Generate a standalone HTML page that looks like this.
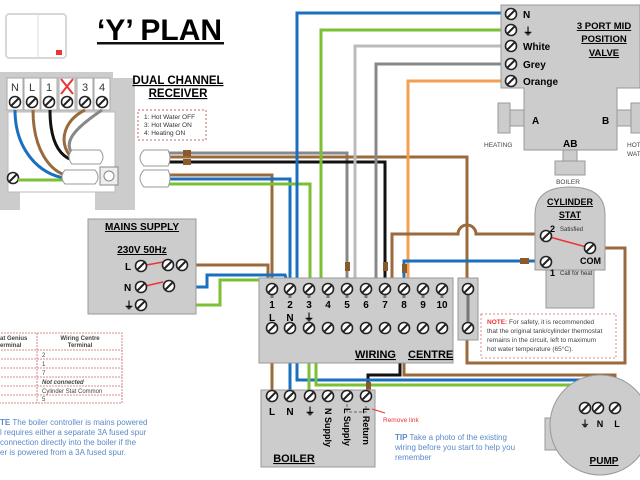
<!DOCTYPE html>
<html><head><meta charset="utf-8"><style>
html,body{margin:0;padding:0;background:#fff;}
svg{display:block;font-family:"Liberation Sans",sans-serif;}
.b{font-weight:bold;}
</style></head><body>
<svg width="640" height="480" viewBox="0 0 640 480" xmlns="http://www.w3.org/2000/svg">
<defs>
<g id="sc"><circle r="5.5" fill="#fff" stroke="#222" stroke-width="1.6"/><line x1="-3.5" y1="3.5" x2="3.5" y2="-3.5" stroke="#222" stroke-width="2"/></g>
</defs>
<rect x="6" y="14" width="60" height="44" rx="3" fill="#fff" stroke="#ccc" stroke-width="1.5"/>
<line x1="38" y1="14" x2="38" y2="58" stroke="#ddd"/>
<rect x="56" y="50" width="6" height="5" fill="#e33"/>
<text x="97" y="40" class="b" font-size="30">‘Y’ PLAN</text>
<rect x="97" y="42" width="127" height="2.5" fill="#111"/>
<path d="M0 72 H113 V78 H135 V210 H95 V192 H20 V210 H0 Z" fill="#ccc"/>
<path d="M8 112 H115 V192 H8 Z" fill="#fff" stroke="#bbb"/>
<rect x="100" y="167" width="18" height="18" fill="#eee" stroke="#888"/><circle cx="109" cy="176" r="5" fill="#fff" stroke="#888"/>
<g fill="#fff" stroke="#aaa"><rect x="7" y="78" width="16" height="32"/><rect x="24" y="78" width="16" height="32"/><rect x="41" y="78" width="16" height="32"/><rect x="59" y="78" width="16" height="32"/><rect x="77" y="78" width="16" height="32"/><rect x="94" y="78" width="16" height="32"/></g>
<g font-size="11" fill="#333" text-anchor="middle"><text x="15" y="91">N</text><text x="32" y="91">L</text><text x="49" y="91">1</text><text x="85" y="91">3</text><text x="102" y="91">4</text></g>
<path d="M61 79 L73 94 M73 79 L61 94" stroke="#e33" stroke-width="2"/>
<use href="#sc" x="15" y="102"/><use href="#sc" x="32" y="102"/><use href="#sc" x="49" y="102"/><use href="#sc" x="67" y="102"/><use href="#sc" x="85" y="102"/><use href="#sc" x="102" y="102"/>
<use href="#sc" x="13" y="178"/>
<g fill="none" stroke-width="3">
<path d="M15 110 C15 150 40 175 65 178" stroke="#1a70c0"/>
<path d="M33 110 C33 150 50 170 65 175" stroke="#9b6a3c"/>
<path d="M50 110 C50 140 58 155 72 160" stroke="#111"/>
<path d="M85 110 C65 120 58 140 70 156" stroke="#9b6a3c"/>
<path d="M102 110 C80 125 62 140 72 153" stroke="#888"/>
<path d="M18 180 H68" stroke="#7bbf35"/>
</g>
<path d="M72 150 H100 Q106 157 100 164 H72 Q66 157 72 150Z" fill="#fff" stroke="#999"/>
<path d="M65 170 H95 Q101 177 95 184 H65 Q59 177 65 170Z" fill="#fff" stroke="#999"/>
<text x="178" y="84" class="b" font-size="11.5" text-anchor="middle" text-decoration="underline">DUAL CHANNEL</text>
<text x="178" y="97" class="b" font-size="11.5" text-anchor="middle" text-decoration="underline">RECEIVER</text>
<rect x="138" y="110" width="68" height="30" fill="none" stroke="#c66" stroke-dasharray="2,2"/>
<g font-size="6.5" fill="#333"><text x="144" y="119">1: Hot Water OFF</text><text x="144" y="127">3: Hot Water ON</text><text x="144" y="135">4: Heating ON</text></g>
<g fill="none" stroke-width="3">
<path d="M168 153 H347 V289" stroke="#888"/>
<path d="M168 157 H467 V289" stroke="#9b6a3c"/>
<path d="M168 162 H385 V289" stroke="#111"/>
<path d="M168 175 H272 V289" stroke="#9b6a3c"/>
<path d="M168 179 H290 V289" stroke="#1a70c0"/>
<path d="M168 184 H310 V289" stroke="#7bbf35"/>
<path d="M510 13 H297 V289" stroke="#1a70c0"/>
<path d="M510 30 H321 V289" stroke="#7bbf35"/>
<path d="M510 46 H355 V289" stroke="#bbb"/>
<path d="M510 64 H376 V280 L385 289" stroke="#888"/>
<path d="M510 81 H408 V289" stroke="#f0a050"/>
<path d="M188 265 H268 V289" stroke="#9b6a3c"/>
<path d="M172 287 H207 V275 H285 L290 289" stroke="#1a70c0"/>
<path d="M145 305 H220 V280 H300 L309 289" stroke="#7bbf35"/>
<path d="M385 289 L392 278 V234 H458 A9 9 0 0 1 476 234 H540" stroke="#9b6a3c"/>
<path d="M404 289 V261 H545" stroke="#1a70c0"/>
<path d="M590 248 H625 V363 H467 V328" stroke="#9b6a3c"/>
<path d="M404 328 L400 340 V375 H368 V396" stroke="#111"/>
<path d="M404 328 L404 375 H615 V410" stroke="#9b6a3c"/>
<path d="M290 328 L297 340 V380 H598 V410" stroke="#1a70c0"/>
<path d="M309 328 L316 340 V385 H585 V410" stroke="#7bbf35"/>
<path d="M272 328 V396" stroke="#9b6a3c"/>
<path d="M290 328 V396" stroke="#1a70c0"/>
<path d="M309 328 V396" stroke="#7bbf35"/>
</g>
<path d="M144 150 H168 Q172 158 168 166 H144 Q136 158 144 150Z" fill="#fff" stroke="#999"/>
<path d="M144 170 H168 Q172 178 168 187 H144 Q136 178 144 170Z" fill="#fff" stroke="#999"/>
<g fill="#8a5a2a"><rect x="183" y="150" width="8" height="6"/><rect x="183" y="159" width="8" height="6"/><rect x="345" y="262" width="5" height="9"/><rect x="383" y="262" width="5" height="9"/><rect x="402" y="264" width="5" height="9"/><rect x="520" y="258" width="9" height="6"/><rect x="366" y="382" width="5" height="8"/><rect x="398" y="348" width="5" height="8"/></g>
<rect x="88" y="219" width="108" height="95" fill="#ccc" stroke="#999"/>
<text x="142" y="230" class="b" font-size="10" text-anchor="middle" text-decoration="underline">MAINS SUPPLY</text>
<text x="142" y="253" class="b" font-size="10" text-anchor="middle" text-decoration="underline">230V 50Hz</text>
<g class="b" font-size="10"><text x="125" y="270">L</text><text x="124" y="291">N</text><text x="124" y="309">⏚</text></g>
<path d="M141 266 L163 262 M141 287 L163 282" stroke="#e33" stroke-width="1.5"/>
<use href="#sc" x="141" y="266"/><use href="#sc" x="168" y="265"/><use href="#sc" x="182" y="265"/><use href="#sc" x="141" y="287"/><use href="#sc" x="169" y="286"/><use href="#sc" x="141" y="305"/>
<rect x="259" y="278" width="194" height="85" fill="#ccc" stroke="#999"/>
<g stroke="#777" stroke-width="3"><line x1="272" y1="289" x2="272" y2="328"/><line x1="290" y1="289" x2="290" y2="328"/><line x1="309" y1="289" x2="309" y2="328"/><line x1="328" y1="289" x2="328" y2="328"/><line x1="347" y1="289" x2="347" y2="328"/><line x1="366" y1="289" x2="366" y2="328"/><line x1="385" y1="289" x2="385" y2="328"/><line x1="404" y1="289" x2="404" y2="328"/><line x1="423" y1="289" x2="423" y2="328"/><line x1="442" y1="289" x2="442" y2="328"/></g>
<g class="b" font-size="10" text-anchor="middle">
<rect x="266" y="298" width="180" height="25" fill="#ccc"/>
<text x="272" y="308">1</text><text x="290" y="308">2</text><text x="309" y="308">3</text><text x="328" y="308">4</text><text x="347" y="308">5</text><text x="366" y="308">6</text><text x="385" y="308">7</text><text x="404" y="308">8</text><text x="423" y="308">9</text><text x="442" y="308">10</text>
<text x="272" y="321">L</text><text x="290" y="321">N</text><text x="309" y="321">⏚</text>
</g>
<g><use href="#sc" x="272" y="289"/><use href="#sc" x="290" y="289"/><use href="#sc" x="309" y="289"/><use href="#sc" x="328" y="289"/><use href="#sc" x="347" y="289"/><use href="#sc" x="366" y="289"/><use href="#sc" x="385" y="289"/><use href="#sc" x="404" y="289"/><use href="#sc" x="423" y="289"/><use href="#sc" x="442" y="289"/>
<use href="#sc" x="272" y="328"/><use href="#sc" x="290" y="328"/><use href="#sc" x="309" y="328"/><use href="#sc" x="328" y="328"/><use href="#sc" x="347" y="328"/><use href="#sc" x="366" y="328"/><use href="#sc" x="385" y="328"/><use href="#sc" x="404" y="328"/><use href="#sc" x="423" y="328"/><use href="#sc" x="442" y="328"/></g>
<text x="355" y="358" class="b" font-size="11" text-decoration="underline">WIRING</text>
<text x="408" y="358" class="b" font-size="11" text-decoration="underline">CENTRE</text>
<rect x="458" y="278" width="20" height="62" fill="#ccc" stroke="#999"/>
<line x1="468" y1="289" x2="468" y2="328" stroke="#777" stroke-width="3"/>
<use href="#sc" x="468" y="289"/><use href="#sc" x="468" y="328"/>
<path d="M501 5 H640 V88 H617 V150 H524 V88 H501 Z" fill="#ccc" stroke="#999"/>
<rect x="498" y="103" width="12" height="30" fill="#ccc" stroke="#999"/><rect x="510" y="110" width="14" height="16" fill="#ccc" stroke="#999"/>
<rect x="617" y="110" width="14" height="16" fill="#ccc" stroke="#999"/><rect x="631" y="103" width="12" height="30" fill="#ccc" stroke="#999"/>
<rect x="563" y="150" width="14" height="12" fill="#ccc" stroke="#999"/><rect x="555" y="161" width="30" height="14" fill="#ccc" stroke="#999"/>
<use href="#sc" x="511" y="14"/><use href="#sc" x="511" y="30"/><use href="#sc" x="511" y="46"/><use href="#sc" x="511" y="64"/><use href="#sc" x="511" y="81"/>
<g class="b" font-size="10"><text x="523" y="18">N</text><text x="523" y="35">⏚</text><text x="523" y="50">White</text><text x="523" y="68">Grey</text><text x="523" y="85">Orange</text>
<text x="532" y="124">A</text><text x="602" y="124">B</text><text x="563" y="147">AB</text></g>
<g class="b" font-size="9.5" text-anchor="middle" text-decoration="underline"><text x="604" y="29">3 PORT MID</text><text x="604" y="42">POSITION</text><text x="604" y="56">VALVE</text></g>
<g font-size="6.5" fill="#444"><text x="484" y="147">HEATING</text><text x="568" y="184" text-anchor="middle">BOILER</text><text x="627" y="147">HOT</text><text x="627" y="156">WAT</text></g>
<rect x="546" y="268" width="48" height="40" fill="#ccc" stroke="#999"/>
<path d="M535 270 V215 Q535 187 570 187 Q605 187 605 215 V270 Z" fill="#ccc" stroke="#999"/>
<g class="b" font-size="9" text-anchor="middle" text-decoration="underline"><text x="570" y="205">CYLINDER</text><text x="570" y="218">STAT</text></g>
<path d="M546 236 L590 248" stroke="#e33" stroke-width="1.5"/>
<use href="#sc" x="546" y="236"/><use href="#sc" x="590" y="248"/><use href="#sc" x="546" y="262"/>
<text x="550" y="232" class="b" font-size="9">2</text><text x="560" y="231" font-size="6" fill="#333">Satisfied</text>
<text x="580" y="264" class="b" font-size="9">COM</text>
<text x="550" y="276" class="b" font-size="9">1</text><text x="560" y="275" font-size="6" fill="#333">Call for heat</text>
<rect x="481" y="314" width="135" height="44" fill="none" stroke="#d88" stroke-dasharray="2,2"/>
<g font-size="6.5" fill="#444"><text x="487" y="324"><tspan fill="#e33" class="b">NOTE:</tspan> For safety, it is recommended</text><text x="487" y="333">that the original tank/cylinder thermostat</text><text x="487" y="342">remains in the circuit, left to maximum</text><text x="487" y="351">hot water temperature (65°C).</text></g>
<rect x="261" y="390" width="114" height="77" fill="#ccc" stroke="#999"/>
<path d="M347 404 V412 H366 V404" fill="none" stroke="#888" stroke-dasharray="3,2" stroke-width="1.5"/>
<use href="#sc" x="272" y="396"/><use href="#sc" x="290" y="396"/><use href="#sc" x="310" y="396"/><use href="#sc" x="328" y="396"/><use href="#sc" x="347" y="396"/><use href="#sc" x="366" y="396"/>
<g class="b" font-size="10" text-anchor="middle"><text x="272" y="415">L</text><text x="290" y="415">N</text><text x="310" y="415">⏚</text></g>
<g class="b" font-size="9"><text transform="translate(325,408) rotate(90)">N Supply</text><text transform="translate(344,408) rotate(90)">L Supply</text><text transform="translate(363,408) rotate(90)">L Return</text></g>
<text x="294" y="462" class="b" font-size="11" text-anchor="middle" text-decoration="underline">BOILER</text>
<path d="M385 413 L372 409" stroke="#e33" stroke-width="1"/><text x="383" y="422" font-size="6.5" fill="#e33">Remove link</text>
<g stroke="#c66" stroke-dasharray="2,1" fill="none" stroke-width="0.8">
<rect x="-2" y="333" width="124" height="70"/><line x1="37" y1="333" x2="37" y2="403"/>
<line x1="-2" y1="350" x2="122" y2="350"/><line x1="-2" y1="359" x2="122" y2="359"/><line x1="-2" y1="368" x2="122" y2="368"/><line x1="-2" y1="377" x2="122" y2="377"/><line x1="-2" y1="386" x2="122" y2="386"/><line x1="-2" y1="395" x2="122" y2="395"/></g>
<g font-size="6" fill="#444"><text x="0" y="340" class="b">at Genius</text><text x="0" y="347" class="b">erminal</text><text x="80" y="340" class="b" text-anchor="middle">Wiring Centre</text><text x="80" y="347" class="b" text-anchor="middle">Terminal</text>
<text x="42" y="357">2</text><text x="42" y="366">1</text><text x="42" y="375">7</text><text x="42" y="384" class="b" font-style="italic">Not connected</text><text x="42" y="393">Cylinder Stat Common</text><text x="42" y="401">5</text></g>
<g font-size="8" fill="#5a8ac8"><text x="0" y="425"><tspan class="b">TE</tspan> The boiler controller is mains powered</text><text x="0" y="435">l requires either a separate 3A fused spur</text><text x="0" y="445">connection directly into the boiler if the</text><text x="0" y="455">er is powered from a 3A fused spur.</text></g>
<g font-size="8" fill="#5a8ac8"><text x="395" y="440"><tspan class="b">TIP</tspan> Take a photo of the existing</text><text x="395" y="450">wiring before you start to help you</text><text x="395" y="460">remember</text></g>
<rect x="545" y="418" width="16" height="32" fill="#ccc" stroke="#999"/>
<circle cx="600" cy="425" r="50" fill="#ccc" stroke="#999"/>
<use href="#sc" x="585" y="408"/><use href="#sc" x="598" y="408"/><use href="#sc" x="615" y="408"/>
<g class="b" font-size="9" text-anchor="middle"><text x="585" y="427">⏚</text><text x="600" y="427">N</text><text x="617" y="427">L</text></g>
<text x="604" y="464" class="b" font-size="10" text-anchor="middle" text-decoration="underline">PUMP</text>
</svg>
</body></html>
